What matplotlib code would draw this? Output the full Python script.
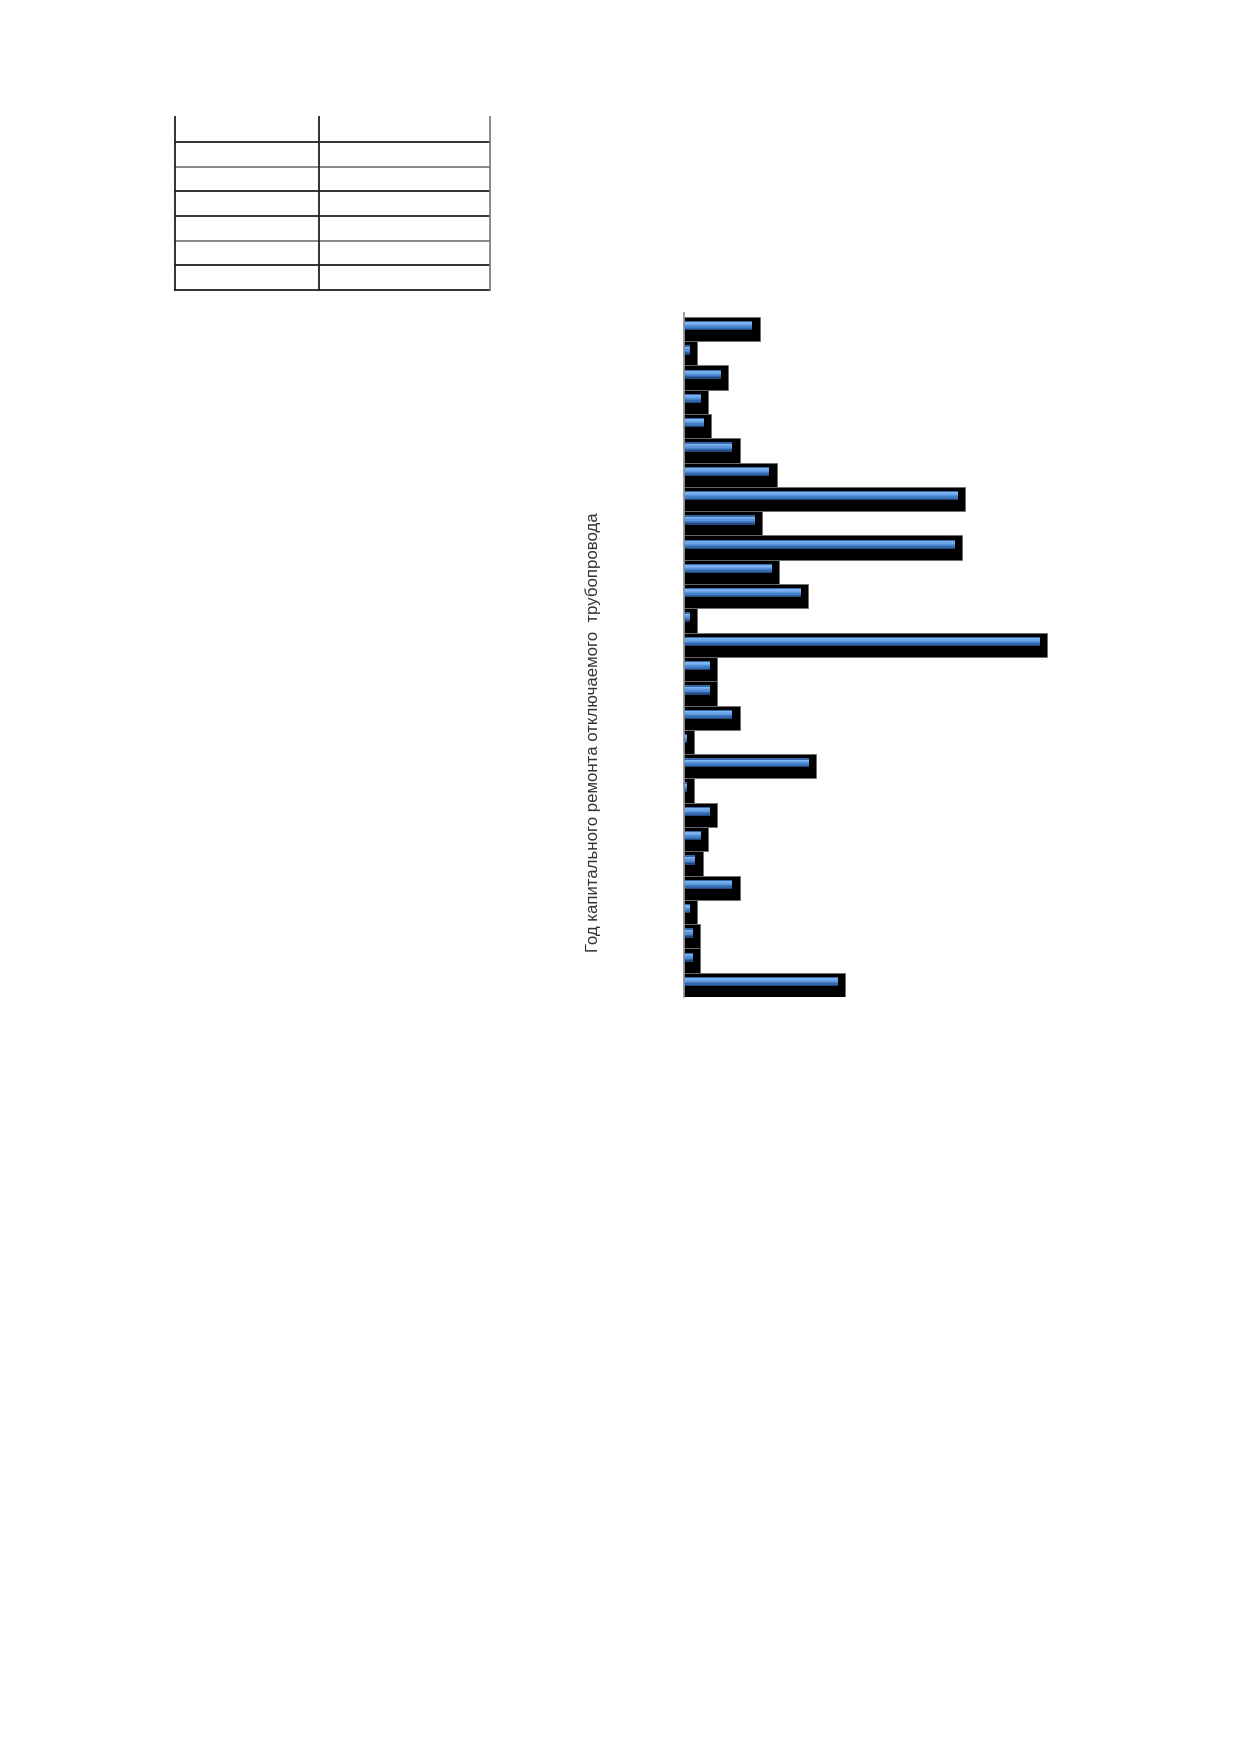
import matplotlib
matplotlib.use("Agg")
import matplotlib.pyplot as plt
import numpy as np

plt.rcParams['font.family'] = ['Liberation Sans', 'DejaVu Sans']

# значения столбцов (сверху вниз), оценены по рисунку
values = [24, 2, 13, 6, 7, 17, 30, 96, 25, 95, 31, 41, 2, 125,
          9, 9, 17, 1, 44, 1, 9, 6, 4, 17, 2, 3, 3, 54]
ylabel = "Год капитального ремонта отключаемого  трубопровода"

# строки пустой таблицы над графиком (в пикселях)
table_rows = [142, 167, 191, 216, 241, 265, 290]
table_cols = [175, 319, 490]

W, H = 1239, 1752
fig = plt.figure(figsize=(W / 100, H / 100), dpi=100)

# --- пустая таблица ---
tab = fig.add_axes([0, 0, 1, 1])
tab.set_xlim(0, W)
tab.set_ylim(H, 0)
tab.axis('off')
for i, yy in enumerate(table_rows):
    c = '#808080' if i in (1, 4) else '#222222'
    tab.plot([table_cols[0], table_cols[-1]], [yy, yy], color=c, lw=1.3)
for j, xx in enumerate(table_cols):
    c = '#808080' if j == 2 else '#222222'
    tab.plot([xx, xx], [117, table_rows[-1]], color=c, lw=1.3)

# --- диаграмма ---
ax = fig.add_axes([684 / W, 1 - 997 / H, 416 / W, 684 / H])
y = np.arange(len(values))
v = np.array(values)
depth = 2.5  # "глубина" псевдо-3D

ax.barh(y, v + depth, height=1.0, color='black', edgecolor='#6e6e6e', linewidth=0.6)

# синяя полоса с градиентом (сверху вниз)
grad = ['#3566a6', '#7db3ef', '#6ba6e9', '#5794dc', '#447fc8', '#3368ad', '#22487e']
top, bot = -0.33, 0.05
step = (bot - top) / len(grad)
for k, c in enumerate(grad):
    ax.barh(y + top + step * (k + 0.5), v, height=step * 1.05, color=c, linewidth=0)

ax.set_xlim(0, 146)
ax.set_ylim(len(values) - 0.5, -0.66)
for s in ['top', 'right', 'bottom']:
    ax.spines[s].set_visible(False)
ax.spines['left'].set_color('#8c8c8c')
ax.spines['left'].set_linewidth(1.2)
ax.set_xticks([])
ax.set_yticks([])

fig.text(593 / W, 1 - 732 / H, ylabel, rotation=90, ha='center', va='center',
         fontsize=12.1, color='#333333')

fig.savefig('out.png', dpi=100)
